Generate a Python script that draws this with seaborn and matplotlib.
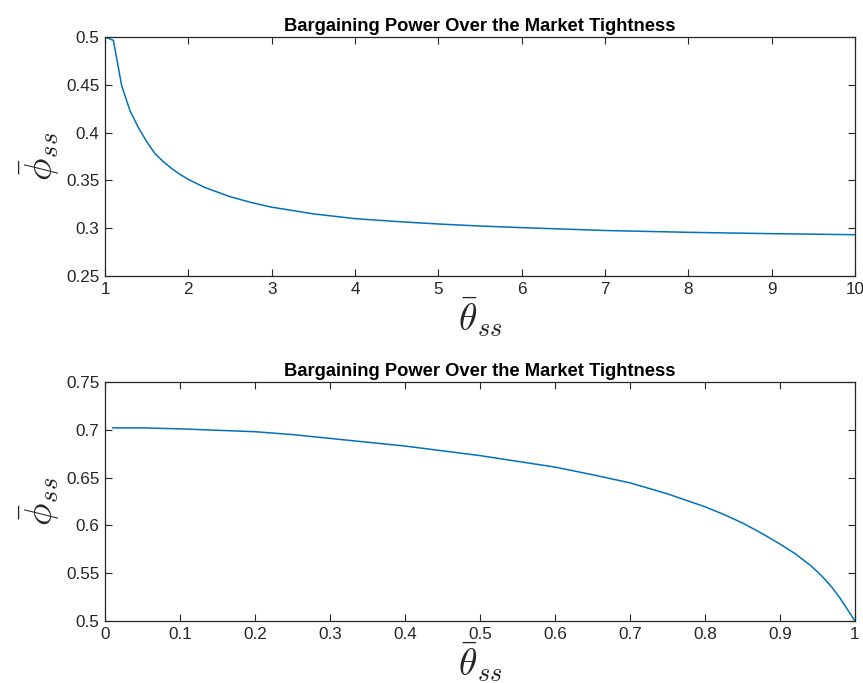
import matplotlib
matplotlib.use("Agg")
import matplotlib.pyplot as plt
import seaborn as sns
import pandas as pd
import numpy as np

# Data
theta_high = [1.0, 1.1, 1.2, 1.3, 1.4, 1.5, 1.6, 1.7, 1.8, 1.9, 2.0, 2.2, 2.5, 2.75,
              3.0, 3.5, 4.0, 4.5, 5.0, 5.5, 6.0, 7.0, 8.0, 9.0, 10.0]
phi_high = [0.500, 0.4965, 0.449, 0.4228, 0.4053, 0.3905, 0.378, 0.3696, 0.3624,
            0.3563, 0.351, 0.3425, 0.333, 0.327, 0.322, 0.315, 0.310, 0.307,
            0.3044, 0.3023, 0.3006, 0.2976, 0.2957, 0.2943, 0.2932]

theta_low = [0.01, 0.05, 0.1, 0.15, 0.2, 0.25, 0.3, 0.35, 0.4, 0.45, 0.5, 0.55,
             0.6, 0.65, 0.7, 0.75, 0.8, 0.825, 0.85, 0.875, 0.9, 0.92, 0.94,
             0.95, 0.96, 0.97, 0.98, 0.99, 1.0]
phi_low = [0.702, 0.702, 0.701, 0.6995, 0.698, 0.695, 0.691, 0.687, 0.683, 0.678,
           0.673, 0.667, 0.661, 0.653, 0.6445, 0.633, 0.6195, 0.6115, 0.6025,
           0.592, 0.5805, 0.5705, 0.5585, 0.5515, 0.5435, 0.5345, 0.524, 0.512, 0.500]

title = "Bargaining Power Over the Market Tightness"
xlabel = r"$\bar{\theta}_{ss}$"
ylabel = r"$\bar{\phi}_{ss}$"

sns.set_style("ticks")
plt.rcParams["font.family"] = ["Liberation Sans", "DejaVu Sans"]
plt.rcParams["mathtext.fontset"] = "cm"

line_color = "#0072BD"
axis_color = "#262626"

fig = plt.figure(figsize=(8.63, 6.83), dpi=100)
ax1 = fig.add_axes([0.1217, 0.5959, 0.869, 0.3499])
ax2 = fig.add_axes([0.1217, 0.0908, 0.869, 0.3499])

df_high = pd.DataFrame({"theta": theta_high, "phi": phi_high})
df_low = pd.DataFrame({"theta": theta_low, "phi": phi_low})

sns.lineplot(data=df_high, x="theta", y="phi", ax=ax1, color=line_color, linewidth=1.1)
sns.lineplot(data=df_low, x="theta", y="phi", ax=ax2, color=line_color, linewidth=1.1)

ax1.set_xlim(1, 10)
ax1.set_ylim(0.25, 0.5)
ax1.set_xticks(range(1, 11))
ax1.set_yticks([0.25, 0.3, 0.35, 0.4, 0.45, 0.5])
ax1.set_yticklabels(["0.25", "0.3", "0.35", "0.4", "0.45", "0.5"])

ax2.set_xlim(0, 1)
ax2.set_ylim(0.5, 0.75)
ax2.set_xticks(np.arange(0, 11) / 10)
ax2.set_xticklabels(["0", "0.1", "0.2", "0.3", "0.4", "0.5", "0.6", "0.7", "0.8", "0.9", "1"])
ax2.set_yticks([0.5, 0.55, 0.6, 0.65, 0.7, 0.75])
ax2.set_yticklabels(["0.5", "0.55", "0.6", "0.65", "0.7", "0.75"])

for ax in (ax1, ax2):
    ax.set_title(title, fontsize=13.2, fontweight="bold", pad=4, color="black")
    ax.set_xlabel(xlabel, fontsize=27, labelpad=-1)
    ax.set_ylabel(ylabel, fontsize=27, labelpad=4)
    ax.tick_params(direction="in", length=5, width=0.8, top=True, right=True,
                   labelsize=12.3, colors=axis_color, pad=4)
    for spine in ax.spines.values():
        spine.set_visible(True)
        spine.set_color(axis_color)
        spine.set_linewidth(0.9)

fig.savefig("out.png", dpi=100)
